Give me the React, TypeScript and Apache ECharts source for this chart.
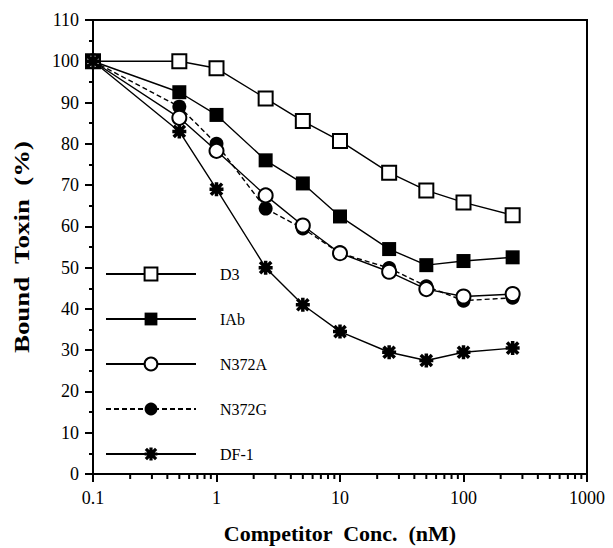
import React, { useEffect, useRef } from "react";
import * as echarts from "echarts";

const concentrations = [0.1, 0.5, 1, 2.5, 5, 10, 25, 50, 100, 250];
const d3Values = [100, 100, 98.3, 91, 85.5, 80.7, 73, 68.7, 65.8, 62.7];
const iabValues = [100, 92.5, 87, 76, 70.4, 62.4, 54.5, 50.6, 51.6, 52.5];
const n372aValues = [100, 86.3, 78.3, 67.5, 60.2, 53.5, 49, 44.8, 43, 43.6];
const n372gValues = [100, 89, 80, 64.3, 59.5, 53.5, 49.9, 45.5, 42, 42.7];
const df1Values = [100, 83, 69, 50, 41, 34.5, 29.5, 27.5, 29.5, 30.5];
const seriesNames = ["D3", "IAb", "N372A", "N372G", "DF-1"];
const xMinorTicks = [
  0.2, 0.3, 0.4, 0.5, 0.6, 0.7, 0.8, 0.9,
  2, 3, 4, 5, 6, 7, 8, 9,
  20, 30, 40, 50, 60, 70, 80, 90,
  200, 300, 400, 500, 600, 700, 800, 900,
];
const yTitle = "Bound  Toxin  (%)";
const xTitle = "Competitor  Conc.  (nM)";

const ASTERISK =
  "path://M7.5 0H12.5V20H7.5Z M0 7.5H20V12.5H0Z M3.77 0.23L19.77 16.23L16.23 19.77L0.23 3.77Z M16.23 0.23L19.77 3.77L3.77 19.77L0.23 16.23Z";

const FONT = "Liberation Serif";

function pairs(values: number[]) {
  return concentrations.map((c, i) => [c, values[i]]);
}

export default function App() {
  const ref = useRef<HTMLDivElement>(null);
  useEffect(() => {
    document.body.style.margin = "0";
    if (!ref.current) return;
    const chart = echarts.init(ref.current, null, { renderer: "svg" });
    const baseLine = { color: "#000", width: 1.4 };
    const mk = (
      name: string,
      values: number[],
      symbol: string,
      fill: string,
      size: number,
      dashed = false,
      z = 2
    ) => ({
      name,
      type: "line",
      data: pairs(values),
      symbol,
      symbolSize: size,
      showAllSymbol: true,
      z,
      lineStyle: { ...baseLine, type: dashed ? [5, 3] : "solid" },
      itemStyle: { color: fill, borderColor: "#000", borderWidth: fill === "#fff" ? 2 : 0 },
      emphasis: { disabled: true },
    });
    chart.setOption({
      animation: false,
      grid: {
        left: 93,
        right: 26,
        top: 20,
        bottom: 74,
        show: true,
        borderColor: "#000",
        borderWidth: 2,
        outerBoundsMode: "none",
        containLabel: false,
      },
      legend: {
        data: seriesNames,
        orient: "vertical",
        left: 100,
        top: 261,
        itemWidth: 90,
        itemHeight: 16,
        itemGap: 29,
        selectedMode: false,
        textStyle: {
          fontFamily: FONT,
          fontSize: 16,
          color: "#000",
          lineHeight: 16,
          padding: [0, 0, 0, 19],
        },
      },
      xAxis: {
        type: "log",
        logBase: 10,
        min: 0.1,
        max: 1000,
        interval: 1,
        name: xTitle,
        nameLocation: "middle",
        nameGap: 48,
        nameTextStyle: { fontFamily: FONT, fontSize: 22, fontWeight: "bold", color: "#000" },
        axisLine: { lineStyle: { color: "#000", width: 2 } },
        axisTick: { length: 8, lineStyle: { color: "#000", width: 2 } },
        axisLabel: {
          fontFamily: FONT,
          fontSize: 18,
          color: "#000",
          margin: 15,
          formatter: (v: number) => String(Number(v.toPrecision(3))),
        },
        splitLine: { show: false },
        minorTick: { show: false },
      },
      yAxis: {
        type: "value",
        min: 0,
        max: 110,
        interval: 10,
        axisLine: { show: true, lineStyle: { color: "#000", width: 2 } },
        axisTick: { show: true, length: 8, lineStyle: { color: "#000", width: 2 } },
        minorTick: { show: true, splitNumber: 2, length: 4, lineStyle: { color: "#000", width: 2 } },
        axisLabel: { fontFamily: FONT, fontSize: 18, color: "#000", margin: 14 },
        splitLine: { show: false },
      },
      series: [
        mk("D3", d3Values, "rect", "#fff", 14, false, 2),
        mk("IAb", iabValues, "rect", "#000", 14, false, 2),
        mk("N372G", n372gValues, "circle", "#000", 14, true, 3),
        mk("N372A", n372aValues, "circle", "#fff", 14, false, 4),
        mk("DF-1", df1Values, ASTERISK, "#000", 14, false, 5),
        {
          type: "line",
          name: "xMinorTicks",
          silent: true,
          clip: false,
          z: 10,
          symbol: "none",
          connectNulls: false,
          lineStyle: { color: "#000", width: 2 },
          data: xMinorTicks.flatMap((v) => [[v, 0], [v, -1.2], [v, "-"]]),
        },
      ],
    });
    const y0 = chart.convertToPixel({ yAxisIndex: 0 }, 0) as number;
    const yTop = chart.convertToPixel({ yAxisIndex: 0 }, 110) as number;
    chart.setOption({
      graphic: [
        {
          type: "text",
          x: 22,
          y: (y0 + yTop) / 2,
          rotation: Math.PI / 2,
          scaleX: 1.28,
          silent: true,
          style: {
            text: yTitle,
            font: `bold 21px "${FONT}"`,
            fill: "#000",
            align: "center",
            verticalAlign: "middle",
            textAlign: "center",
            textVerticalAlign: "middle",
          },
        },
      ],
    });
    return () => chart.dispose();
  }, []);
  return <div ref={ref} style={{ width: 613, height: 548 }} />;
}
